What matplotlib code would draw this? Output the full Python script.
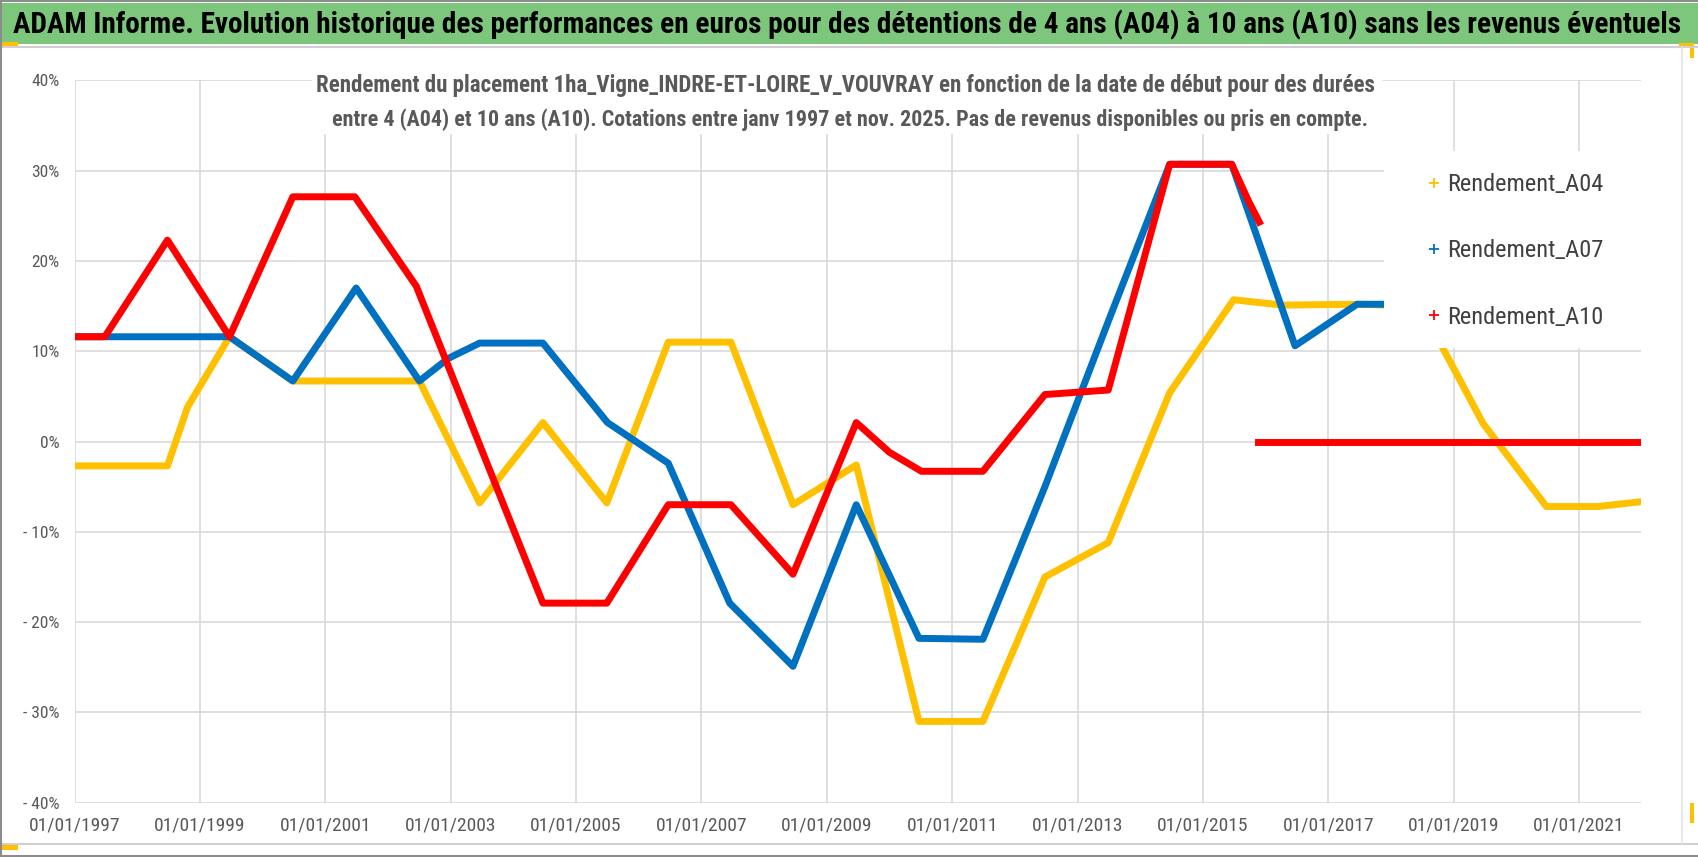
import matplotlib
matplotlib.use('Agg')
import matplotlib.pyplot as plt
from matplotlib import font_manager
from matplotlib.lines import Line2D
from matplotlib.patches import Rectangle

# Rendement (%) par date de début (année décimale)
a04_years = [1997.0, 1998.48, 1998.8, 1999.47, 2000.48, 2002.5, 2003.46, 2004.47,
             2005.49, 2006.47, 2007.47, 2008.46, 2009.47, 2010.47, 2011.49, 2012.48,
             2013.49, 2014.47, 2015.49, 2016.27, 2017.46, 2018.47, 2019.47, 2020.48,
             2021.3, 2021.95]
a04_values = [-2.7, -2.7, 3.8, 11.6, 6.7, 6.7, -6.8, 2.1,
              -6.8, 11.0, 11.0, -7.0, -2.6, -31.0, -31.0, -15.0,
              -11.2, 5.4, 15.7, 15.1, 15.2, 15.0, 2.0, -7.2,
              -7.2, -6.7]

a07_years = [1997.0, 1999.47, 2000.48, 2001.49, 2002.5, 2002.96, 2003.46, 2004.47,
             2005.5, 2006.47, 2007.45, 2008.46, 2009.47, 2010.47, 2011.49, 2012.48,
             2013.49, 2014.47, 2015.46, 2016.47, 2017.46, 2017.89]
a07_values = [11.6, 11.6, 6.7, 17.0, 6.7, 9.2, 10.9, 10.9,
              2.1, -2.4, -17.9, -24.9, -7.0, -21.8, -21.9, -5.0,
              13.3, 30.7, 30.7, 10.6, 15.2, 15.2]

a10_years = [1997.0, 1997.48, 1998.48, 1999.47, 2000.48, 2001.47, 2002.45, 2004.47,
             2005.49, 2006.47, 2007.47, 2008.46, 2009.47, 2010.0, 2010.51, 2011.49,
             2012.48, 2013.49, 2014.47, 2015.46, 2015.73, 2015.9]
a10_values = [11.6, 11.6, 22.3, 11.6, 27.1, 27.1, 17.2, -17.9,
              -17.9, -7.0, -7.0, -14.7, 2.1, -1.2, -3.3, -3.3,
              5.2, 5.7, 30.7, 30.7, 26.6, 24.3]
a10_tail_years = [2015.88, 2021.97]
a10_tail_values = [0.0, 0.0]

series_names = ['Rendement_A04', 'Rendement_A07', 'Rendement_A10']
series_colors = ['#FFC000', '#0070C0', '#FF0000']
x_ticks = list(range(1997, 2022, 2))
y_ticks = list(range(-40, 41, 10))

title = ("ADAM Informe. Evolution historique des performances en euros pour des "
         "détentions de 4 ans (A04) à 10 ans (A10) sans les revenus éventuels")
subtitle_1 = ("Rendement du placement 1ha_Vigne_INDRE-ET-LOIRE_V_VOUVRAY en fonction "
              "de la date de début pour des durées")
subtitle_2 = ("entre 4 (A04) et 10 ans (A10). Cotations entre janv 1997 et nov. 2025. "
              "Pas de revenus disponibles ou pris en compte.")

# pick a narrow font if one is installed
FONT, STRETCH = 'Liberation Sans', 'normal'
avail = {(f.name, f.stretch) for f in font_manager.fontManager.ttflist}
names = {a[0] for a in avail}
for cand in ['Liberation Sans Narrow', 'Roboto Condensed', 'Open Sans Condensed',
             'Noto Sans Condensed']:
    if cand in names:
        FONT = cand
        break
else:
    if ('DejaVu Sans', 'condensed') in avail or ('DejaVu Sans', 'semi-condensed') in avail:
        FONT, STRETCH = 'DejaVu Sans', 'condensed'
plt.rcParams['font.family'] = [FONT, 'DejaVu Sans']
plt.rcParams['font.stretch'] = STRETCH

W, H, DPI = 1698, 857, 100
GREY = '#595959'
GRID = '#D9D9D9'

def fx(x):
    return x / W

def fy(y):
    return 1 - y / H

fig = plt.figure(figsize=(W / DPI, H / DPI), dpi=DPI)

# background frame (pixels)
bg = fig.add_axes([0, 0, 1, 1])
bg.set_xlim(0, W)
bg.set_ylim(H, 0)
bg.axis('off')
bg.add_patch(Rectangle((0, 3), W, 41, color='#7DC77D', lw=0))
bg.plot([0, W], [1, 1], color='#8C8C8C', lw=1.5)
bg.plot([0, W], [47, 47], color='#D0D0D0', lw=1.5)
bg.plot([0, W], [844, 844], color='#D0D0D0', lw=1.5)
bg.plot([1, 1], [0, H], color='#8C8C8C', lw=1.5)
bg.plot([0, W], [855.5, 855.5], color='#8C8C8C', lw=1.5)
bg.plot([1682, 1682], [47, 844], color='#E3E3E3', lw=1.2)
bg.add_patch(Rectangle((0, 42), 18, 4, color='#FFC000', lw=0))
bg.add_patch(Rectangle((1, 845), 17, 5, color='#FFC000', lw=0))
bg.add_patch(Rectangle((1679, 43), 15, 3, color='#FFC000', lw=0))
bg.add_patch(Rectangle((1690, 43), 4, 15, color='#FFC000', lw=0))
bg.add_patch(Rectangle((1690, 803), 4, 20, color='#FFC000', lw=0))

ax = fig.add_axes([fx(74.7), fy(802.7), fx(1641 - 74.7), (802.7 - 80.3) / H])
ax.plot(a04_years, a04_values, color=series_colors[0], lw=5, zorder=2)
ax.plot(a07_years, a07_values, color=series_colors[1], lw=5, zorder=2.1)
ax.plot(a10_years, a10_values, color=series_colors[2], lw=5, zorder=2.2)
ax.plot(a10_tail_years, a10_tail_values, color=series_colors[2], lw=5, zorder=2.2)

ax.set_xlim(1997.0, 2021.99)
ax.set_ylim(-40, 40)
ax.set_xticks(x_ticks)
ax.set_xticklabels(['01/01/%d' % y for y in x_ticks])
ax.set_yticks(y_ticks)
ax.set_yticklabels(['%d%%' % v if v >= 0 else '- %d%%' % -v for v in y_ticks])
ax.tick_params(axis='x', length=0, pad=10, labelsize=14, labelcolor=GREY)
ax.tick_params(axis='y', length=0, pad=11, labelsize=12.6, labelcolor=GREY)
ax.grid(True, color=GRID, lw=1.2)
ax.set_axisbelow(True)
for s in ax.spines.values():
    s.set_visible(False)

# white box under legend hides the grid and lines
ax.add_patch(Rectangle((0.836, 0.6295), 0.17, 0.2725, transform=ax.transAxes,
                       facecolor='white', edgecolor='none', zorder=4, clip_on=False))
handles = [Line2D([], [], color=c, marker='+', linestyle='none', markersize=7,
                  markeredgewidth=1.3) for c in series_colors]
leg = ax.legend(handles, series_names, loc='upper left',
                bbox_to_anchor=(fx(1414), fy(161)), bbox_transform=fig.transFigure,
                frameon=False, borderpad=0, handlelength=0.6, handletextpad=0.25,
                labelspacing=1.77, fontsize=17.6)
leg.set_zorder(5)
for t in leg.get_texts():
    t.set_color('#404040')

# subtitle inside the plot, on white
ax.add_patch(Rectangle((fx(312), fy(134)), fx(1382 - 312), (134 - 66) / H,
                       transform=fig.transFigure, facecolor='white', edgecolor='none',
                       zorder=4, clip_on=False))
sub1 = fig.text(fx(846), fy(91.7), subtitle_1, ha='center', va='baseline',
                fontsize=18, fontweight='bold', color=GREY, zorder=6)
sub2 = fig.text(fx(850), fy(126), subtitle_2, ha='center', va='baseline',
                fontsize=18, fontweight='bold', color=GREY, zorder=6)
ttl = fig.text(fx(13), fy(33), title, ha='left', va='baseline',
               fontsize=20, fontweight='bold', color='black', zorder=6)

# scale the long texts to their width in the reference
r = fig.canvas.get_renderer()
for t, target in [(ttl, 1660), (sub1, 1058), (sub2, 1034)]:
    w = t.get_window_extent(r).width
    t.set_fontsize(t.get_fontsize() * target / w)

fig.savefig('out.png', dpi=DPI)
